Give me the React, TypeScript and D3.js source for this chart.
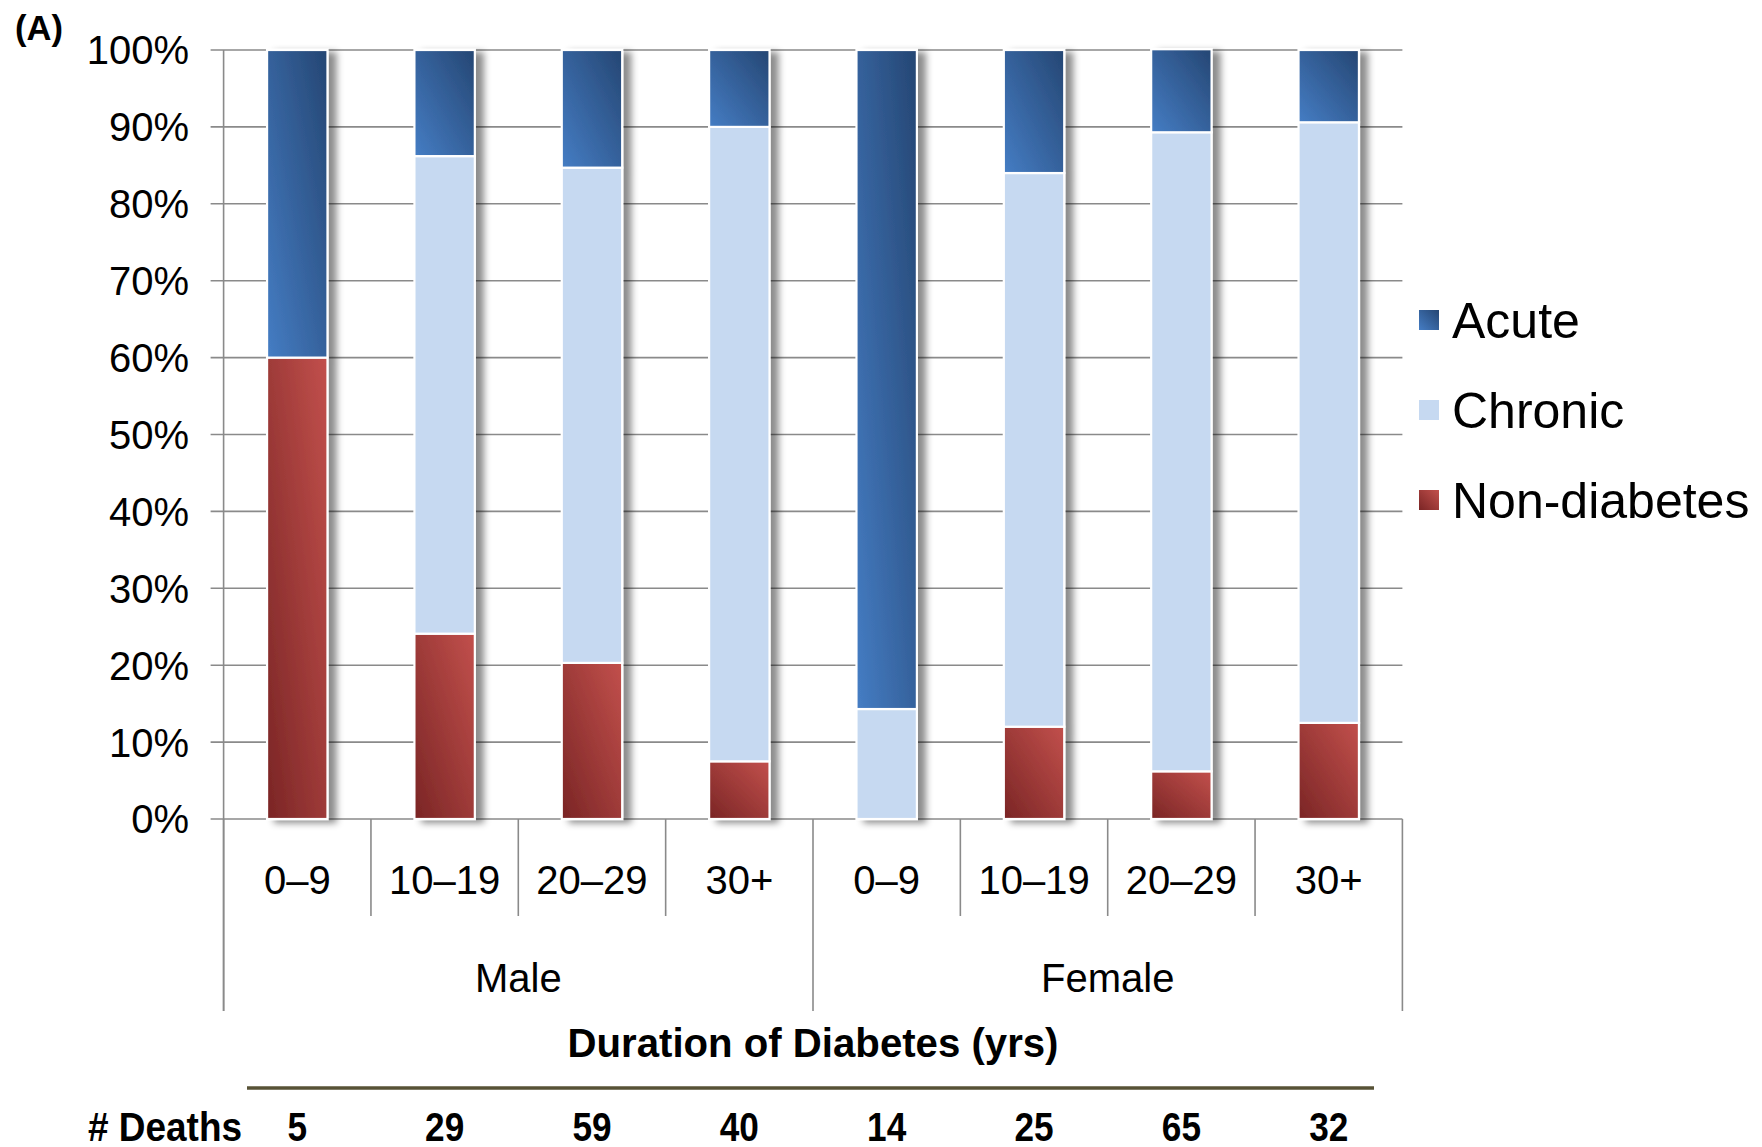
import React from "react";
import * as d3 from "d3";

const categories = ["0–9", "10–19", "20–29", "30+", "0–9", "10–19", "20–29", "30+"];
const groups = ["Male", "Female"];
const nonDiabetes = [60, 24.1, 20.3, 7.5, 0, 12, 6.2, 12.5];
const chronic = [0, 62.1, 64.4, 82.5, 14.3, 72, 83.1, 78.1];
const acute = [40, 13.8, 15.3, 10, 85.7, 16, 10.8, 9.4];
const deaths = [5, 29, 59, 40, 14, 25, 65, 32];
const yTicks = [0, 10, 20, 30, 40, 50, 60, 70, 80, 90, 100];
const seriesNames = ["Acute", "Chronic", "Non-diabetes"];

const FONT = "'Liberation Sans', Arial, Helvetica, sans-serif";

export default function App() {
  const W = 1762, H = 1147;
  const left = 223.6, right = 1402.4, top = 50, bottom = 819;
  const x = d3.scaleBand<number>().domain(d3.range(categories.length)).range([left, right]).paddingInner(0.59).paddingOuter(0.295);
  const step = x.step();
  const y = d3.scaleLinear().domain([0, 100]).range([bottom, top]);

  const rows = categories.map((c, i) => ({ i, nonDiabetes: nonDiabetes[i], chronic: chronic[i], acute: acute[i] }));
  const stack = d3.stack<any>().keys(["nonDiabetes", "chronic", "acute"]);
  const layers = stack(rows);
  const fills: Record<string, string> = { nonDiabetes: "url(#gRed)", chronic: "#c6d9f1", acute: "url(#gBlue)" };

  const catX = (i: number) => left + step * i;
  const groupBounds = [left, left + step * 4, right];

  return (
    <svg width={W} height={H} style={{ position: "absolute", left: 0, top: 0, background: "#fff" }} fontFamily={FONT}>
      <defs>
        <linearGradient id="gBlue" x1="1" y1="0" x2="0" y2="1">
          <stop offset="0" stopColor="#254673" />
          <stop offset="1" stopColor="#457dc4" />
        </linearGradient>
        <linearGradient id="gRed" x1="1" y1="0" x2="0" y2="1">
          <stop offset="0" stopColor="#c2504c" />
          <stop offset="1" stopColor="#7a2525" />
        </linearGradient>
        <filter id="sh" x="-30%" y="-5%" width="180%" height="115%">
          <feDropShadow dx="8" dy="3" stdDeviation="3.5" floodColor="#000" floodOpacity="0.45" />
        </filter>
      </defs>

      {/* gridlines */}
      {yTicks.map((t) => (
        <line key={t} x1={left - 13} x2={right} y1={y(t)} y2={y(t)} stroke="#8a8a8a" strokeWidth={1.6} />
      ))}
      {/* left axis */}
      <line x1={left} x2={left} y1={top} y2={1011} stroke="#8a8a8a" strokeWidth={1.6} />

      {/* tick labels */}
      {yTicks.map((t) => (
        <text key={t} x={189} y={y(t)} dy="0.36em" textAnchor="end" fontSize={40} fill="#000">{t}%</text>
      ))}

      {/* bars */}
      {rows.map((r, i) => (
        <g key={i} filter="url(#sh)">
          {layers.map((layer) => {
            const d = layer[i];
            const h = y(d[0]) - y(d[1]);
            if (h <= 0.01) return null;
            return (
              <rect key={layer.key} x={x(i)} y={y(d[1])} width={x.bandwidth()} height={h}
                fill={fills[layer.key]} stroke="#fff" strokeWidth={2.2} />
            );
          })}
        </g>
      ))}

      {/* category separators */}
      {d3.range(categories.length + 1).map((k) => {
        const xx = catX(k);
        const isGroup = k % 4 === 0;
        return <line key={k} x1={xx} x2={xx} y1={bottom} y2={isGroup ? 1011 : 916} stroke="#8a8a8a" strokeWidth={1.6} />;
      })}

      {/* category labels */}
      {categories.map((c, i) => (
        <text key={i} x={catX(i) + step / 2} y={880} dy="0.36em" textAnchor="middle" fontSize={40} fill="#000">{c}</text>
      ))}
      {groups.map((g, gi) => (
        <text key={g} x={(groupBounds[gi] + groupBounds[gi + 1]) / 2} y={978} dy="0.36em" textAnchor="middle" fontSize={40} fill="#000">{g}</text>
      ))}

      {/* title */}
      <text x={(left + right) / 2 + 0} y={1043} dy="0.36em" textAnchor="middle" fontSize={40} fontWeight="bold" textLength={491} lengthAdjust="spacingAndGlyphs" fill="#000">Duration of Diabetes (yrs)</text>
      <line x1={247} x2={1374} y1={1088} y2={1088} stroke="#575236" strokeWidth={3.5} />

      {/* deaths row */}
      <text x={88} y={1127} dy="0.36em" fontSize={40} fontWeight="bold" textLength={154} lengthAdjust="spacingAndGlyphs" fill="#000"># Deaths</text>
      {deaths.map((dv, i) => (
        <text key={i} transform={`translate(${catX(i) + step / 2},${1127}) scale(0.88,1)`} dy="0.36em" textAnchor="middle" fontSize={40} fontWeight="bold" fill="#000">{dv}</text>
      ))}

      {/* panel label */}
      <text x={15} y={40} fontSize={35} fontWeight="bold" textLength={48} lengthAdjust="spacingAndGlyphs" fill="#000">(A)</text>

      {/* legend */}
      {seriesNames.map((s, k) => {
        const cy = 320 + k * 90;
        const f = k === 0 ? "url(#gBlue)" : k === 1 ? "#c6d9f1" : "url(#gRed)";
        return (
          <g key={s}>
            <rect x={1419} y={cy - 10} width={20} height={20} fill={f} />
            <text x={1452} y={cy} dy="0.36em" fontSize={50} fill="#000">{s}</text>
          </g>
        );
      })}
    </svg>
  );
}
